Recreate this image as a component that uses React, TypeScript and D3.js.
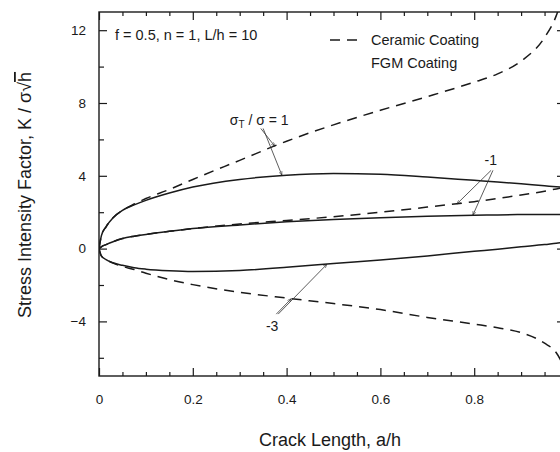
import * as React from "react";
import * as d3 from "d3";

// crack length a/h shared by all curves
const crackLength = [0, 0.005, 0.015, 0.03, 0.05, 0.075, 0.1, 0.15, 0.2, 0.3, 0.4, 0.5, 0.6, 0.7, 0.8, 0.85, 0.9, 0.95, 0.975, 1.0];

// sigma_T / sigma = 1
const ceramicPlus1 = [0, 0.7, 1.2, 1.7, 2.1, 2.45, 2.75, 3.25, 3.8, 4.85, 5.9, 6.8, 7.6, 8.35, 9.15, 9.6, 10.3, 11.6, 12.8, 15];
const fgmPlus1 = [0, 0.7, 1.2, 1.7, 2.1, 2.4, 2.65, 3.05, 3.38, 3.8, 4.03, 4.12, 4.08, 3.93, 3.75, 3.66, 3.56, 3.45, 3.4, 3.34];
// sigma_T / sigma = -1
const ceramicMinus1 = [0, 0.1, 0.22, 0.38, 0.55, 0.68, 0.78, 0.95, 1.1, 1.35, 1.55, 1.75, 2.0, 2.28, 2.58, 2.75, 2.95, 3.15, 3.28, 3.4];
const fgmMinus1 = [0, 0.1, 0.22, 0.38, 0.55, 0.68, 0.78, 0.95, 1.1, 1.3, 1.47, 1.6, 1.7, 1.78, 1.83, 1.85, 1.87, 1.88, 1.88, 1.88];
// sigma_T / sigma = -3
const ceramicMinus3 = [0, -0.4, -0.6, -0.8, -0.98, -1.15, -1.35, -1.7, -1.98, -2.4, -2.72, -3.02, -3.35, -3.78, -4.15, -4.35, -4.62, -5.2, -5.72, -7];
const fgmMinus3 = [0, -0.4, -0.6, -0.78, -0.92, -1.05, -1.13, -1.22, -1.26, -1.2, -1.03, -0.82, -0.62, -0.4, -0.15, -0.03, 0.1, 0.22, 0.3, 0.36];

const xTicks = [0, 0.2, 0.4, 0.6, 0.8, 1];
const xTickLabels = ["0", "0.2", "0.4", "0.6", "0.8", ""];
const yTicks = [-4, 0, 4, 8, 12];

const FONT = "'Liberation Sans', Arial, Helvetica, sans-serif";

function drawChart(svgRef: React.RefObject<SVGSVGElement | null>) {
  const width = 560;
  const height = 452;
  const left = 99;
  const right = 568;
  const top = 12;
  const bottom = 376;
  const ink = "#1a1a1a";

  const x = d3.scaleLinear().domain([0, 1]).range([left, right]);
  const y = d3.scaleLinear().domain([-7, 13]).range([bottom, top]);

  const svg = d3.select(svgRef.current).attr("width", width).attr("height", height);
  svg.selectAll("*").remove();

  const defs = svg.append("defs");
  defs.append("clipPath").attr("id", "plot-clip")
    .append("rect").attr("x", left).attr("y", top).attr("width", right - left).attr("height", bottom - top);
  defs.append("marker")
    .attr("id", "arrow")
    .attr("viewBox", "0 0 10 10")
    .attr("refX", 10).attr("refY", 5)
    .attr("markerWidth", 5).attr("markerHeight", 5)
    .attr("orient", "auto")
    .append("path").attr("d", "M0,1 L10,5 L0,9").attr("fill", "none").attr("stroke", ink).attr("stroke-width", 1.2);

  const minorX = d3.range(0, 1.0001, 0.05).filter((d) => Math.abs(d * 5 - Math.round(d * 5)) > 1e-6);
  const minorY = d3.range(-6, 13, 4);

  const styleAxis = (g: d3.Selection<SVGGElement, unknown, null, undefined>) => {
    g.select(".domain").remove();
    g.selectAll("line").attr("stroke", ink).attr("stroke-width", 1.2);
    g.selectAll("text").attr("fill", ink).attr("font-family", FONT).attr("font-size", 13.5);
  };

  // bottom
  svg.append("g").attr("transform", `translate(0,${bottom})`)
    .call(d3.axisBottom(x).tickValues(xTicks).tickSize(-8).tickPadding(18)
      .tickFormat((_, i) => xTickLabels[i]))
    .call(styleAxis);
  svg.append("g").attr("transform", `translate(0,${bottom})`)
    .call(d3.axisBottom(x).tickValues(minorX).tickSize(-4).tickFormat(() => ""))
    .call(styleAxis);
  // top
  svg.append("g").attr("transform", `translate(0,${top})`)
    .call(d3.axisTop(x).tickValues(xTicks).tickSize(-8).tickFormat(() => ""))
    .call(styleAxis);
  svg.append("g").attr("transform", `translate(0,${top})`)
    .call(d3.axisTop(x).tickValues(minorX).tickSize(-4).tickFormat(() => ""))
    .call(styleAxis);
  // left
  svg.append("g").attr("transform", `translate(${left},0)`)
    .call(d3.axisLeft(y).tickValues(yTicks).tickSize(-8).tickPadding(13).tickFormat(d3.format("d")))
    .call(styleAxis);
  svg.append("g").attr("transform", `translate(${left},0)`)
    .call(d3.axisLeft(y).tickValues(minorY).tickSize(-5).tickFormat(() => ""))
    .call(styleAxis);
  // right
  svg.append("g").attr("transform", `translate(${right},0)`)
    .call(d3.axisRight(y).tickValues(yTicks).tickSize(-11).tickFormat(() => ""))
    .call(styleAxis);
  svg.append("g").attr("transform", `translate(${right},0)`)
    .call(d3.axisRight(y).tickValues(minorY).tickSize(-6).tickFormat(() => ""))
    .call(styleAxis);

  svg.append("rect")
    .attr("x", left).attr("y", top).attr("width", right - left).attr("height", bottom - top)
    .attr("fill", "none").attr("stroke", ink).attr("stroke-width", 1.4);

  // curves
  const line = d3.line<number>()
    .x((_, i) => x(crackLength[i]))
    .y((d) => y(d))
    .curve(d3.curveMonotoneX);

  const curves = [
    { values: ceramicPlus1, dashed: true },
    { values: fgmPlus1, dashed: false },
    { values: ceramicMinus1, dashed: true },
    { values: fgmMinus1, dashed: false },
    { values: ceramicMinus3, dashed: true },
    { values: fgmMinus3, dashed: false },
  ];

  svg.append("g").attr("clip-path", "url(#plot-clip)")
    .selectAll("path")
    .data(curves)
    .enter()
    .append("path")
    .attr("d", (c) => line(c.values))
    .attr("fill", "none")
    .attr("stroke", ink)
    .attr("stroke-width", 1.5)
    .attr("stroke-dasharray", (c) => (c.dashed ? "10,7" : null));

  // leader lines
  const leaders = [
    [0.345, 6.6, 0.375, 5.62],
    [0.35, 6.6, 0.39, 4.03],
    [0.836, 4.3, 0.763, 2.45],
    [0.84, 4.3, 0.797, 1.83],
    [0.378, -3.6, 0.41, -2.75],
    [0.382, -3.6, 0.486, -0.86],
  ];
  svg.append("g")
    .selectAll("line")
    .data(leaders)
    .enter()
    .append("line")
    .attr("x1", (d) => x(d[0])).attr("y1", (d) => y(d[1]))
    .attr("x2", (d) => x(d[2])).attr("y2", (d) => y(d[3]))
    .attr("stroke", "#333").attr("stroke-width", 0.8)
    .attr("marker-end", "url(#arrow)");

  const label = (tx: number, ty: number, size: number) =>
    svg.append("text").attr("x", tx).attr("y", ty)
      .attr("font-family", FONT).attr("font-size", size).attr("fill", ink);

  // curve labels
  const sig = label(x(0.279), y(6.8), 14);
  sig.append("tspan").text("σ");
  sig.append("tspan").attr("font-size", 10).attr("dy", 3).text("T");
  sig.append("tspan").attr("dy", -3).text(" / σ = 1");
  label(x(0.822), y(4.62), 14).text("-1");
  label(x(0.356), y(-4.5), 14).text("-3");

  // parameters and legend
  label(115, 40, 14.5).text("f = 0.5, n = 1, L/h = 10");
  svg.append("line").attr("x1", 330).attr("x2", 358).attr("y1", 40).attr("y2", 40)
    .attr("stroke", ink).attr("stroke-width", 1.5).attr("stroke-dasharray", "10,7");
  label(371, 45, 14.5).text("Ceramic Coating");
  label(371, 68, 14.5).text("FGM Coating");

  // axis titles
  svg.append("text")
    .attr("x", 330).attr("y", 446)
    .attr("text-anchor", "middle")
    .attr("font-family", FONT).attr("font-size", 18).attr("fill", ink)
    .text("Crack Length, a/h");

  const yt = svg.append("text")
    .attr("transform", "translate(31,195) rotate(-90)")
    .attr("text-anchor", "middle")
    .attr("font-family", FONT).attr("font-size", 18).attr("fill", ink);
  yt.append("tspan").text("Stress Intensity Factor, K / σ√");
  yt.append("tspan").style("text-decoration", "overline").text("h");
}

const App = () => {
  const svgRef = React.useRef<SVGSVGElement>(null);

  React.useEffect(() => {
    drawChart(svgRef);
  }, [svgRef]);

  return (
    <div id="chart" style={{ position: "absolute", left: 0, top: 0 }}>
      <svg ref={svgRef} style={{ display: "block", background: "#fff" }} />
    </div>
  );
};

export default App;
